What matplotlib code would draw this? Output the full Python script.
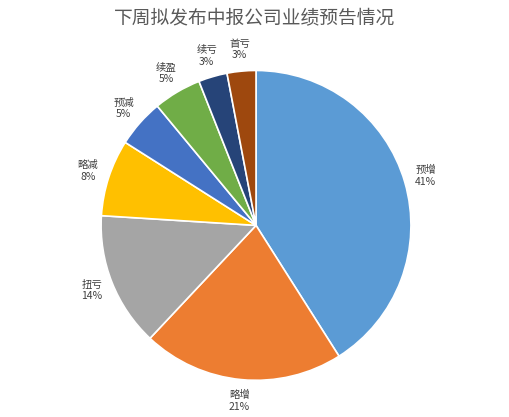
import matplotlib
matplotlib.use("Agg")
import matplotlib.pyplot as plt

plt.rcParams['font.family'] = ['Noto Sans CJK SC', 'DejaVu Sans']

categories = ["预增", "略增", "扭亏", "略减", "预减", "续盈", "续亏", "首亏"]
values = [41, 21, 14, 8, 5, 5, 3, 3]
colors = ["#5B9BD5", "#ED7D31", "#A5A5A5", "#FFC000", "#4472C4", "#70AD47", "#264478", "#9E480E"]

fig = plt.figure(figsize=(5.1, 4.17), dpi=100)
ax = fig.add_axes([0.198, 0.088, 0.608, 0.743])
labels = [f"{c}\n{v}%" for c, v in zip(categories, values)]
wedges, texts = ax.pie(values, colors=colors, startangle=90, counterclock=False,
                       labels=labels, labeldistance=1.14,
                       wedgeprops=dict(edgecolor="white", linewidth=1.2),
                       textprops=dict(fontsize=7.5, color="#404040", ha="center", va="center"))
for t in texts:
    t.set_horizontalalignment("center")
ax.set_xlim(-1, 1)
ax.set_ylim(-1, 1)
ax.set_aspect("equal")
ax.axis("off")
fig.text(0.5, 0.955, "下周拟发布中报公司业绩预告情况", ha="center", va="center",
         fontsize=13.5, color="#595959")
fig.savefig("out.png", dpi=100)
